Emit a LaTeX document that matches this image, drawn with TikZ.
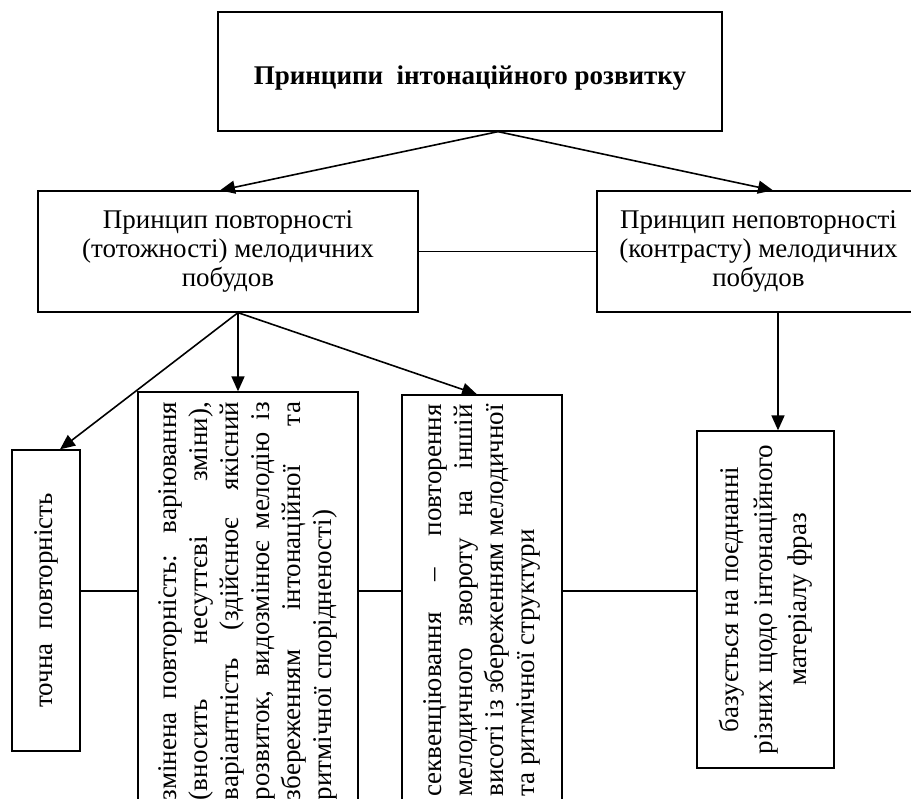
\documentclass[tikz,border=0pt]{standalone}
\usepackage{fontspec}
\setmainfont{Liberation Serif}
\usepackage{tikz}
\usetikzlibrary{arrows.meta, positioning, calc}
\tikzstyle{principle} = [
    rectangle,
    draw=black,
    line width=1.3pt,
    align=center,
    font=\fontsize{27}{29}\selectfont
]
\tikzstyle{kind} = [
    rectangle,
    rotate=90,
    draw=black,
    line width=1.3pt,
    font=\fontsize{27}{31}\selectfont
]
\tikzstyle{arrow} = [
    line width=1.6pt,
    ->,
    >={Triangle[length=15pt, width=13pt]}
]
\tikzstyle{link} = [
    line width=1.6pt
]
\begin{document}
\begin{tikzpicture}[x=1pt, y=-1pt]
        \useasboundingbox (0,0) rectangle (911,799);
        \clip (0,0) rectangle (911,799);

        \node[principle, minimum width=504pt, minimum height=119pt, font=\fontsize{27}{29}\selectfont\bfseries] (top) at (470,71.5) {\rule{0pt}{31pt}Принципи\ \ інтонаційного розвитку};
        \node[principle, minimum width=380pt, minimum height=121pt] (rep) at (228,251.5) {Принцип повторності\\(тотожності) мелодичних\\побудов};
        \node[principle, minimum width=323pt, minimum height=121pt] (nonrep) at (758.5,251.5) {Принцип неповторності\\(контрасту) мелодичних\\побудов};

        % rotated boxes: width is along the text
        \node[kind, minimum width=301pt, minimum height=68pt, align=center] (exact) at (46,600.5) {точна\ \ повторність};
        \node[kind, minimum width=418pt, minimum height=220pt, text width=398pt, align=justify] (varied) at (248,601) {змінена повторність: варіювання\linebreak
            (вносить несуттєві зміни),\linebreak
            варіантність (здійснює якісний\linebreak
            розвиток, видозмінює мелодію із\linebreak
            збереженням інтонаційної та\linebreak
            ритмічної спорідненості)};
        \node[kind, minimum width=411pt, minimum height=160pt, text width=392pt, align=justify] (seq) at (482,600.5) {секвенціювання – повторення\linebreak
            мелодичного звороту на іншій\linebreak
            висоті із збереженням мелодичної\linebreak
            та ритмічної структури};
        \node[kind, minimum width=337pt, minimum height=137pt, align=center, font=\fontsize{27}{34}\selectfont] (contrast) at (765.5,599.5) {базується на поєднанні\\різних щодо інтонаційного\\матеріалу фраз};

        \coordinate (topfork) at ([xshift=28pt]top.south);
        \coordinate (repfork) at ([xshift=10pt]rep.south);
        \coordinate (midline) at (0,591);

        \draw[arrow] (topfork) -- ([xshift=-8pt]rep.north);
        \draw[arrow] (topfork) -- ([xshift=14.5pt]nonrep.north);
        \draw[link] (rep) -- (nonrep);
        \draw[arrow] ([xshift=19.5pt]nonrep.south) -- ([xshift=12.5pt]contrast.east);
        \draw[arrow] (repfork) -- ([xshift=14pt]exact.east);
        \draw[arrow] (repfork) -- ([xshift=-10pt]varied.east);
        \draw[arrow] (repfork) -- ([xshift=-5pt]seq.east);
        \draw[link] (exact.south |- midline) -- (varied.north |- midline);
        \draw[link] (varied.south |- midline) -- (seq.north |- midline);
        \draw[link] (seq.south |- midline) -- (contrast.north |- midline);
    \end{tikzpicture}
\end{document}
